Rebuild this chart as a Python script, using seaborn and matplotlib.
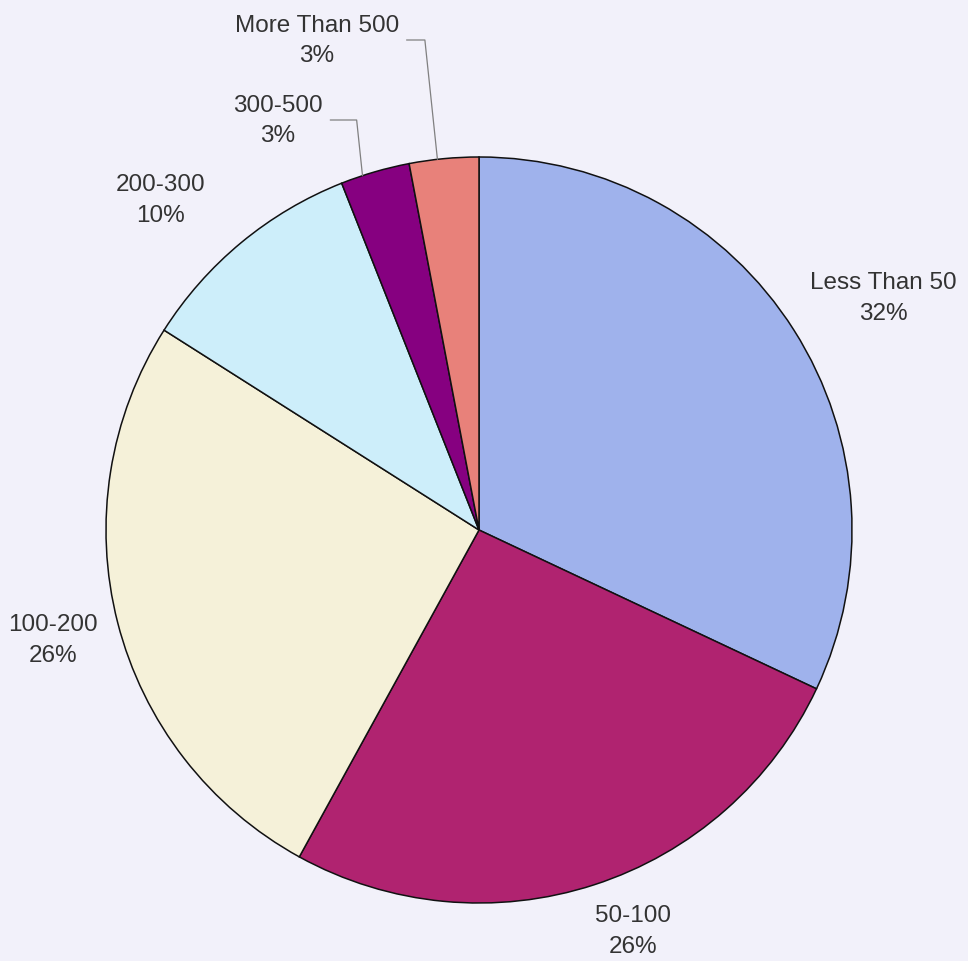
"""
Pie chart of category shares (Less Than 50 ... More Than 500).
"""
import numpy as np
import matplotlib
matplotlib.use("Agg")
import matplotlib.pyplot as plt
import seaborn as sns

# data, clockwise from 12 o'clock
categories = ["Less Than 50", "50-100", "100-200", "200-300", "300-500",
              "More Than 500"]
shares = [32, 26, 26, 10, 3, 3]
colors = ["#9fb2ec", "#b02370", "#f5f1d9", "#cdeefa", "#860080", "#e8817a"]

BG = "#f2f1fa"
TEXT = "#333333"


def main():
    sns.set_theme(style="white")
    plt.rcParams['font.family'] = ['Liberation Sans', 'DejaVu Sans']

    fig = plt.figure(figsize=(9.68, 9.62), dpi=100, facecolor=BG)
    ax = fig.add_axes([0, 0, 1, 1])
    ax.set_facecolor(BG)

    cx, cy, r = 479, 431, 373
    wedges, _ = ax.pie(shares, colors=colors, startangle=90, counterclock=False,
                       center=(cx, cy), radius=r, frame=True,
                       wedgeprops=dict(edgecolor="#111111", linewidth=1.1))
    ax.set_xlim(0, 968)
    ax.set_ylim(0, 962)
    ax.set_aspect('equal')
    ax.axis('off')

    # (distance in radii, angle offset in degrees) for direct labels
    label_pos = {0: (1.25, -2.5), 1: (1.15, 3.0), 2: (1.18, 0.0),
                 3: (1.23, 4.3)}
    # text positions and edge angle offsets for labels with leader lines
    leader_text = {4: (278, 841), 5: (317, 921)}
    leader_off = {4: 2.0, 5: 1.0}

    style = dict(ha='center', va='center', fontsize=17.5, color=TEXT,
                 linespacing=1.5)
    for i, w in enumerate(wedges):
        mid = (w.theta1 + w.theta2) / 2
        label = "{}\n{}%".format(categories[i], shares[i])
        if i in label_pos:
            d, off = label_pos[i]
            ang = np.deg2rad(mid + off)
            ax.text(cx + d * r * np.cos(ang), cy + d * r * np.sin(ang), label,
                    **style)
        else:
            ang = np.deg2rad(mid + leader_off[i])
            edge = (cx + r * np.cos(ang), cy + r * np.sin(ang))
            ax.annotate(label, xy=edge, xytext=leader_text[i], **style,
                        arrowprops=dict(arrowstyle='-', color="#808080",
                                        lw=0.9, shrinkA=3, shrinkB=0,
                                        relpos=(1, 0.5),
                                        connectionstyle="angle,angleA=0,"
                                                        "angleB=96,rad=0"))

    fig.savefig("out.png", dpi=100, facecolor=BG)


if __name__ == '__main__':
    main()
